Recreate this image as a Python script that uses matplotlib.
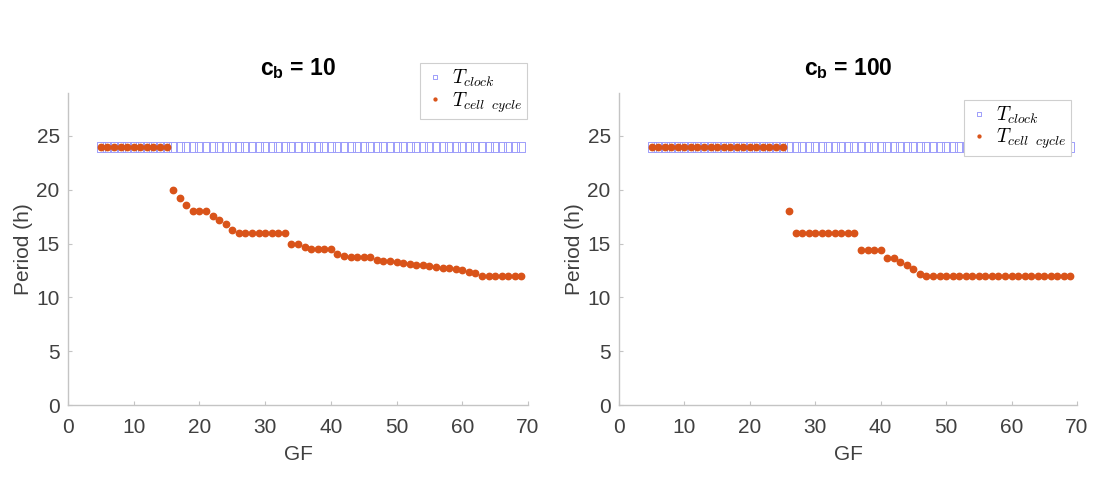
import numpy as np
import matplotlib
matplotlib.use("Agg")
import matplotlib.pyplot as plt
from matplotlib.font_manager import FontProperties
from matplotlib.path import Path

plt.rcParams['font.family'] = 'Liberation Sans'
plt.rcParams['mathtext.fontset'] = 'custom'
plt.rcParams['mathtext.rm'] = 'Liberation Sans'
plt.rcParams['mathtext.bf'] = 'Liberation Sans:bold'

# GF values (x axis)
gf = np.arange(5, 70)

# clock period, same in both panels
t_clock = [24.0] * len(gf)

# cell cycle period, c_b = 10
t_cell_10 = ([24.0] * 11 +                                  # GF 5..15
             [20.0, 19.2, 18.6, 18.0, 18.0, 18.0, 17.6, 17.2, 16.8, 16.3] +  # 16..25
             [16.0] * 8 +                                   # 26..33
             [15.0, 15.0, 14.65] +                          # 34..36
             [14.45] * 4 +                                  # 37..40
             [14.0, 13.8, 13.75, 13.75, 13.75, 13.75] +     # 41..46
             [13.5, 13.4, 13.4, 13.3, 13.2, 13.1, 13.05, 13.0,
              12.9, 12.8, 12.75, 12.7, 12.6, 12.5, 12.4, 12.3] +  # 47..62
             [12.0] * 7)                                    # 63..69

# cell cycle period, c_b = 100
t_cell_100 = ([24.0] * 21 +                 # GF 5..25
              [18.0] +                      # 26
              [16.0] * 10 +                 # 27..36
              [14.4] * 4 +                  # 37..40
              [13.7, 13.7, 13.25, 13.0, 12.65, 12.2] +  # 41..46
              [12.0] * 23)                  # 47..69

panels = [("c$_\\mathbf{b}$ = 10", t_cell_10), ("c$_\\mathbf{b}$ = 100", t_cell_100)]

# open box marker, slightly wider than the spacing so neighbours touch
w = 0.39
box = Path([(-w, -0.5), (w, -0.5), (w, 0.5), (-w, 0.5), (-w, -0.5)],
           [Path.MOVETO, Path.LINETO, Path.LINETO, Path.LINETO, Path.CLOSEPOLY])

fig = plt.figure(figsize=(10.93, 4.84), dpi=100)
axes = [fig.add_axes([0.0622, 0.1632, 0.4209, 0.645]),
        fig.add_axes([0.5663, 0.1632, 0.419, 0.645])]

axcol = '#c4c4c4'
txtcol = '#404040'
leg_pos = [(0.998, 1.096), (0.987, 0.978)]

for i, (ax, (title, cell)) in enumerate(zip(axes, panels)):
    ax.plot(gf, t_clock, marker=box, ls='none', ms=6.8, mfc='none', mec='#9d9dfa',
            mew=0.7, label=r'$T_{clock}$')
    ax.plot(gf, cell, 'o', ms=4.6, color='#D95319', mec='#D95319',
            label=r'$T_{cell\ \ cycle}$')
    ax.set_xlim(0, 70)
    ax.set_ylim(0, 29)
    ax.set_xticks(range(0, 71, 10))
    ax.set_yticks(range(0, 26, 5))
    for s in ['top', 'right']:
        ax.spines[s].set_visible(False)
    for s in ['left', 'bottom']:
        ax.spines[s].set_color(axcol)
        ax.spines[s].set_linewidth(1.0)
    ax.tick_params(axis='both', direction='in', length=3, color=axcol,
                   labelcolor=txtcol, labelsize=15)
    ax.tick_params(axis='x', pad=9)
    ax.tick_params(axis='y', pad=6)
    ax.set_xlabel('GF', fontsize=15, color=txtcol, labelpad=6)
    ax.set_ylabel('Period (h)', fontsize=15, color=txtcol, labelpad=2)
    ax.set_title(title, fontsize=16.5, fontweight='bold', pad=13)
    leg = ax.legend(loc='upper right', bbox_to_anchor=leg_pos[i],
                    borderaxespad=0, fancybox=False, markerscale=0.45,
                    prop=FontProperties(size=14, math_fontfamily='cm'),
                    handlelength=1.0, handletextpad=0.4, labelspacing=0.05,
                    borderpad=0.25, framealpha=1)
    leg.get_frame().set_edgecolor('#cfcfcf')
    leg.get_frame().set_linewidth(0.8)

fig.savefig('out.png', dpi=100)
